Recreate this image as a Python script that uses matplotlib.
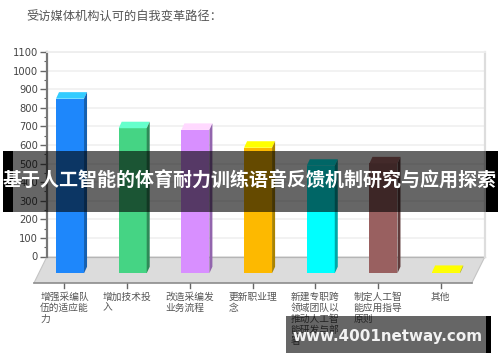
import matplotlib
matplotlib.use('Agg')
import matplotlib.pyplot as plt
from matplotlib.patches import Polygon, Rectangle
from matplotlib.ticker import MultipleLocator

plt.rcParams['font.family'] = ['Noto Sans CJK SC', 'DejaVu Sans']

W, H = 500, 362

categories = ['增强采编队\n伍的适应能\n力', '增加技术投\n入', '改造采编发\n业务流程', '更新职业理\n念',
              '新建专职跨\n领域团队以\n推动人工智\n能研发与部\n署', '制定人工智\n能应用指导\n原则', '其他']
values = [939, 780, 771, 675, 578, 591, 7]
front_colors = ['#1e87fb', '#45d484', '#d88fff', '#fdb900', '#00ffff', '#996060', '#ffff00']
top_colors = ['#33ccff', '#66ffcc', '#ffd9ff', '#ffff00', '#00ffff', '#a86a6a', '#ffff00']
side_colors = ['#1560b0', '#2f8a58', '#9265ad', '#ab8400', '#00a8a8', '#603c3c', '#aaaa00']
y_ticks = list(range(0, 1101, 100))

chart_title = '受访媒体机构认可的自我变革路径：'
banner_title = '基于人工智能的体育耐力训练语音反馈机制研究与应用探索'
banner_url = 'www.4001netway.com'

# depth of the fake 3d, in data units
bar_w = 0.447
dx = 0.048
dy = 35
floor_front = -142
bar_base = -90
floor_left = -0.574
floor_right = 6.41
tick_shift = -0.088


def px_rect(x0, y0, x1, y1, **kw):
    # rectangle given in image pixels, y going down
    return Rectangle((x0 / W, 1 - y1 / H), (x1 - x0) / W, (y1 - y0) / H,
                     transform=fig.transFigure, **kw)


fig = plt.figure(figsize=(W / 100, H / 100), dpi=100, facecolor='white')
ax = fig.add_axes([47 / W, 1 - 256.5 / H, 438 / W, 204.5 / H])
ax.set_xlim(-0.367, 6.62)
ax.set_ylim(0, 1100)

ax.yaxis.set_major_locator(MultipleLocator(100))
ax.yaxis.set_minor_locator(MultipleLocator(50))
ax.set_yticks(y_ticks)
ax.tick_params(axis='y', which='major', length=5, width=1, color='#666666',
               labelsize=7.2, labelcolor='#444444', pad=1.5)
ax.tick_params(axis='y', which='minor', length=2.5, width=0.8, color='#666666')
for lbl in ax.get_yticklabels():
    lbl.set_family('DejaVu Sans')
ax.set_xticks([])
ax.grid(axis='y', color='#f1f1f1', lw=1.3, zorder=0)
ax.set_axisbelow(True)

ax.spines['left'].set_color('#777777')
ax.spines['left'].set_linewidth(1.6)
ax.spines['right'].set_color('#dddddd')
ax.spines['right'].set_linewidth(1.6)
ax.spines['top'].set_color('#eeeeee')
ax.spines['top'].set_linewidth(1.3)
ax.spines['bottom'].set_visible(False)

# floor
floor = Polygon([(-0.367, 0), (6.62, 0), (floor_right, floor_front), (floor_left, floor_front)],
                closed=True, facecolor='#dcdcdc', edgecolor='none', clip_on=False, zorder=1)
ax.add_patch(floor)
ax.plot([-0.367, 6.62], [0, 0], color='#b5b5b5', lw=0.9, clip_on=False, zorder=1.2)
ax.plot([-0.367, floor_left], [0, floor_front], color='#c4c4c4', lw=0.8, clip_on=False, zorder=1.2)
ax.plot([6.62, floor_right], [0, floor_front], color='#c4c4c4', lw=0.8, clip_on=False, zorder=1.2)
ax.plot([floor_left, floor_right], [floor_front, floor_front], color='#8c8c8c', lw=1.2,
        clip_on=False, zorder=1.3)

# bars, front face then top and side
xs = list(range(len(values)))
ax.bar(xs, values, width=bar_w, bottom=bar_base, color=front_colors, zorder=3, clip_on=False)
for x, v, tc, sc in zip(xs, values, top_colors, side_colors):
    l = x - bar_w / 2
    r = x + bar_w / 2
    top = bar_base + v
    ax.add_patch(Polygon([(l, top), (r, top), (r + dx, top + dy), (l + dx, top + dy)],
                         closed=True, facecolor=tc, edgecolor='none', clip_on=False, zorder=3))
    ax.add_patch(Polygon([(r, bar_base), (r + dx, bar_base + dy), (r + dx, top + dy), (r, top)],
                         closed=True, facecolor=sc, edgecolor='none', clip_on=False, zorder=3))

# category ticks and labels on the front edge of the floor
for x, name in zip(xs, categories):
    ax.plot([x + tick_shift] * 2, [floor_front, floor_front - 27], color='#666666', lw=1,
            clip_on=False, zorder=1.2)
    ax.text(x + tick_shift, floor_front - 46, name, ha='center', va='top', multialignment='left',
            fontsize=7, color='#555555', linespacing=1.15, clip_on=False)

fig.text(26 / W, 1 - 17.5 / H, chart_title, fontsize=8.8, color='#555555', ha='left', va='center')

# dark banners over the picture
fig.add_artist(px_rect(3, 151, 13, 212, facecolor='black', edgecolor='none', zorder=5))
fig.add_artist(px_rect(486, 151, 498, 212, facecolor='black', edgecolor='none', zorder=5))
fig.add_artist(px_rect(13, 151, 486, 212, facecolor='black', alpha=0.6, edgecolor='none', zorder=5))
fig.add_artist(px_rect(486, 316, 491, 353, facecolor='black', edgecolor='none', zorder=5))
fig.add_artist(px_rect(286, 316, 486, 353, facecolor='black', alpha=0.6, edgecolor='none', zorder=5))

fig.text(250 / W, 1 - 181 / H, banner_title, fontsize=13.7, fontweight='bold', color='white',
         ha='center', va='center', zorder=6)
fig.text(388 / W, 1 - 337 / H, banner_url, fontsize=10.9, fontweight='bold', color='#f2f2f2',
         family='DejaVu Sans', ha='center', va='center', zorder=6)

fig.savefig('out.png', dpi=100)
plt.close(fig)
